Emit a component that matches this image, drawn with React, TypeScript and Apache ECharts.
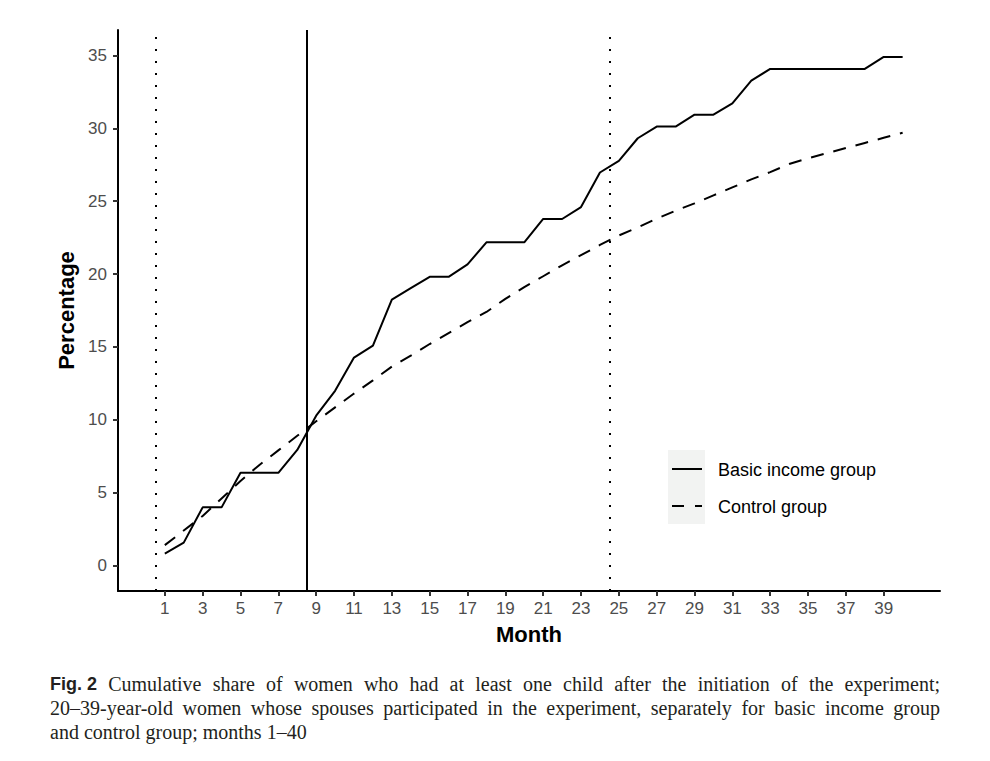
import React, { useEffect, useRef } from "react";
import * as echarts from "echarts";

const months = [
  1, 2, 3, 4, 5, 6, 7, 8, 9, 10, 11, 12, 13, 14, 15, 16, 17, 18, 19, 20,
  21, 22, 23, 24, 25, 26, 27, 28, 29, 30, 31, 32, 33, 34, 35, 36, 37, 38, 39, 40,
];
const basicIncome = [
  0.82, 1.57, 3.99, 3.99, 6.36, 6.36, 6.36, 7.93, 10.28, 11.99, 14.27, 15.09,
  18.24, 19.03, 19.81, 19.81, 20.66, 22.18, 22.18, 22.18, 23.78, 23.78, 24.6,
  26.97, 27.77, 29.32, 30.12, 30.12, 30.94, 30.94, 31.71, 33.28, 34.08, 34.08,
  34.08, 34.08, 34.08, 34.08, 34.9, 34.9,
];
const control = [
  1.4, 2.4, 3.4, 4.6, 5.8, 6.9, 7.9, 8.9, 9.9, 10.85, 11.8, 12.7, 13.65, 14.4,
  15.2, 15.95, 16.7, 17.4, 18.3, 19.1, 19.85, 20.6, 21.3, 22.0, 22.65, 23.2,
  23.8, 24.35, 24.85, 25.4, 25.95, 26.5, 27.0, 27.55, 27.95, 28.3, 28.65, 29.0,
  29.35, 29.7,
];
const xTickValues = [1, 3, 5, 7, 9, 11, 13, 15, 17, 19, 21, 23, 25, 27, 29, 31, 33, 35, 37, 39];
const yTickValues = [0, 5, 10, 15, 20, 25, 30, 35];
const dottedLines = [0.5, 24.5];
const solidLines = [8.5];
const seriesNames = ["Basic income group", "Control group"];
const xAxisTitle = "Month";
const yAxisTitle = "Percentage";
const captionLabel = "Fig. 2";
const captionLine1 =
  "Cumulative share of women who had at least one child after the initiation of the experiment;";
const captionLine2 =
  "20–39-year-old women whose spouses participated in the experiment, separately for basic income group";
const captionLine3 = "and control group; months 1–40";

const SANS = "Liberation Sans";
const SERIF = "Liberation Serif";

function buildCaption(): any[] {
  const canvas = document.createElement("canvas");
  const ctx = canvas.getContext("2d") as CanvasRenderingContext2D;
  const serifSize = 20;
  const boldSize = 18;
  const measure = (t: string, bold: boolean) => {
    ctx.font = bold ? `bold ${boldSize}px "${SANS}"` : `${serifSize}px "${SERIF}"`;
    return ctx.measureText(t).width;
  };
  const x0 = 50;
  const x1 = 940;
  const lines = [
    {
      tokens: [{ t: captionLabel, b: true }, ...captionLine1.split(" ").map((t) => ({ t, b: false }))],
      justify: true,
      y: 684,
    },
    { tokens: captionLine2.split(" ").map((t) => ({ t, b: false })), justify: true, y: 708 },
    { tokens: captionLine3.split(" ").map((t) => ({ t, b: false })), justify: false, y: 732 },
  ];
  const els: any[] = [];
  lines.forEach((line) => {
    const widths = line.tokens.map((k) => measure(k.t, k.b));
    const sum = widths.reduce((a, b) => a + b, 0);
    const space = measure(" ", false);
    const gap = line.justify ? (x1 - x0 - sum) / (line.tokens.length - 1) : space;
    let x = x0;
    line.tokens.forEach((k, i) => {
      els.push({
        type: "text",
        x,
        y: line.y,
        silent: true,
        style: {
          text: k.t,
          fontFamily: k.b ? SANS : SERIF,
          fontSize: k.b ? boldSize : serifSize,
          fontWeight: k.b ? "bold" : "normal",
          fill: "#231f20",
          align: "left",
          verticalAlign: "middle",
        },
      });
      x += widths[i] + gap;
    });
  });
  return els;
}

export default function App() {
  const ref = useRef<HTMLDivElement>(null);
  useEffect(() => {
    if (!ref.current) return;
    const chart = echarts.init(ref.current, null, { renderer: "svg" });
    const markData: any[] = [
      ...dottedLines.map((v) => ({
        xAxis: v,
        lineStyle: { type: [2, 10], width: 2, color: "#000" },
      })),
      ...solidLines.map((v) => ({
        xAxis: v,
        lineStyle: { type: "solid", width: 2, color: "#000" },
      })),
    ];
    const legendEls: any[] = [
      {
        type: "rect",
        silent: true,
        shape: { x: 668, y: 450, width: 37, height: 74 },
        style: { fill: "#f2f3f2" },
      },
      {
        type: "line",
        silent: true,
        shape: { x1: 672, y1: 469, x2: 702, y2: 469 },
        style: { stroke: "#000", lineWidth: 2 },
      },
      {
        type: "line",
        silent: true,
        shape: { x1: 672, y1: 506, x2: 702, y2: 506 },
        style: { stroke: "#000", lineWidth: 2, lineDash: [12, 11] },
      },
      {
        type: "text",
        x: 718,
        y: 470,
        silent: true,
        style: {
          text: seriesNames[0],
          fontFamily: SANS,
          fontSize: 18,
          fill: "#000",
          verticalAlign: "middle",
        },
      },
      {
        type: "text",
        x: 718,
        y: 507,
        silent: true,
        style: {
          text: seriesNames[1],
          fontFamily: SANS,
          fontSize: 18,
          fill: "#000",
          verticalAlign: "middle",
        },
      },
    ];
    const option: any = {
      animation: false,
      backgroundColor: "#fff",
      textStyle: { fontFamily: SANS },
      grid: { left: 118, right: 50, top: 30, bottom: 170, containLabel: false },
      xAxis: {
        type: "value",
        min: -1.475,
        max: 41.975,
        name: xAxisTitle,
        nameLocation: "middle",
        nameGap: 32,
        nameTextStyle: { fontSize: 22, fontWeight: "bold", color: "#000", fontFamily: SANS },
        axisLine: { show: true, onZero: false, lineStyle: { color: "#000", width: 2 } },
        axisTick: {
          show: true,
          customValues: xTickValues,
          length: 5,
          lineStyle: { color: "#333", width: 2 },
        },
        axisLabel: {
          show: true,
          customValues: xTickValues,
          fontSize: 17,
          color: "#4d4d4d",
          margin: 9,
          fontFamily: SANS,
        },
        splitLine: { show: false },
      },
      yAxis: {
        type: "value",
        min: -1.75,
        max: 36.75,
        name: yAxisTitle,
        nameLocation: "middle",
        nameGap: 40,
        nameRotate: 90,
        nameTextStyle: { fontSize: 22, fontWeight: "bold", color: "#000", fontFamily: SANS },
        axisLine: { show: true, onZero: false, lineStyle: { color: "#000", width: 2 } },
        axisTick: {
          show: true,
          customValues: yTickValues,
          length: 5,
          lineStyle: { color: "#333", width: 2 },
        },
        axisLabel: {
          show: true,
          customValues: yTickValues,
          fontSize: 17,
          color: "#4d4d4d",
          margin: 11,
          fontFamily: SANS,
        },
        splitLine: { show: false },
      },
      series: [
        {
          name: seriesNames[0],
          type: "line",
          data: months.map((m, i) => [m, basicIncome[i]]),
          showSymbol: false,
          symbol: "none",
          lineStyle: { color: "#000", width: 2 },
          z: 3,
          markLine: {
            silent: true,
            symbol: ["none", "none"],
            label: { show: false },
            animation: false,
            data: markData,
          },
        },
        {
          name: seriesNames[1],
          type: "line",
          data: months.map((m, i) => [m, control[i]]),
          showSymbol: false,
          symbol: "none",
          lineStyle: { color: "#000", width: 2, type: [13, 10] },
          z: 3,
        },
      ],
      graphic: [...legendEls, ...buildCaption()],
    };
    chart.setOption(option);
    return () => chart.dispose();
  }, []);
  return (
    <div
      ref={ref}
      style={{ position: "fixed", left: 0, top: 0, width: 990, height: 761, background: "#fff" }}
    />
  );
}
